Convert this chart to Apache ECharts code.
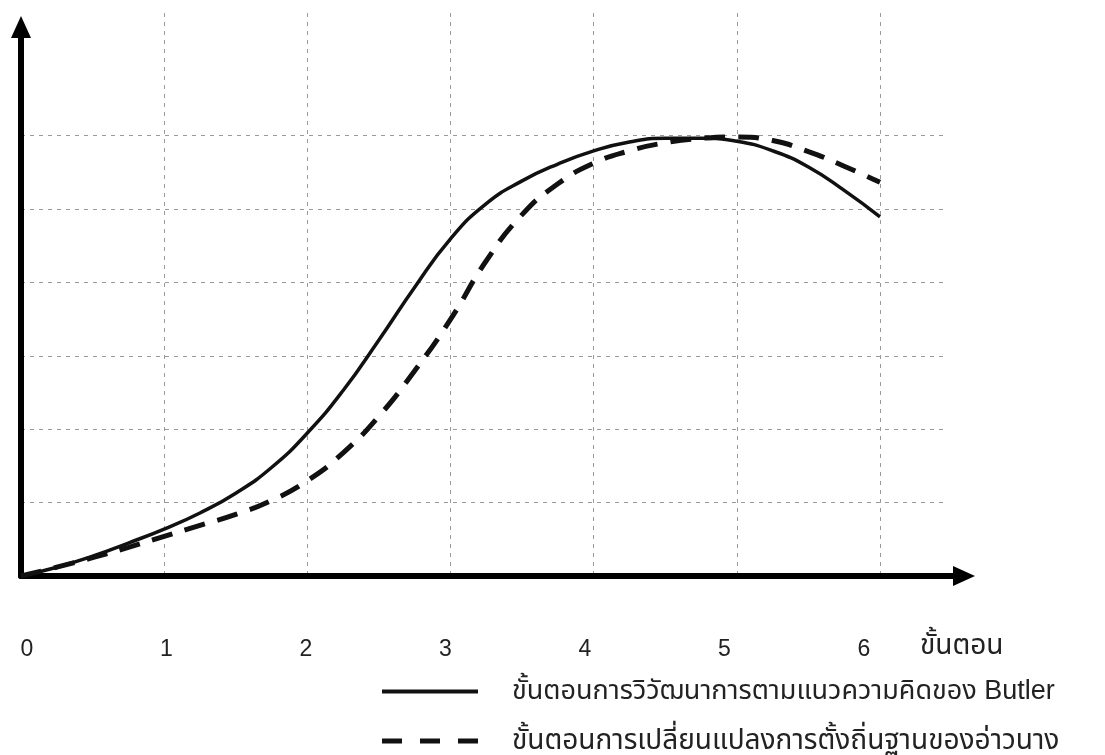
<!DOCTYPE html>
<html><head><meta charset="utf-8">
<script src="https://cdn.jsdelivr.net/npm/echarts@6/dist/echarts.min.js"></script>
<style>html,body{margin:0;padding:0;background:#fff}#c{width:1105px;height:755px}</style>
</head><body><div id="c"></div>
<script>
const xTicks = ['0', '1', '2', '3', '4', '5', '6'];
const xAxisName = 'ขั้นตอน';
const seriesNames = ['ขั้นตอนการวิวัฒนาการตามแนวความคิดของ Butler', 'ขั้นตอนการเปลี่ยนแปลงการตั้งถิ่นฐานของอ่าวนาง'];
const stepX = [0, 0.25, 0.5, 0.75, 1, 1.25, 1.5, 1.75, 2, 2.25, 2.5, 2.75, 3, 3.25, 3.5, 3.75, 4, 4.25, 4.5, 4.75, 5, 5.25, 5.5, 5.75, 6];
const butlerY = [0, 0.12, 0.27, 0.45, 0.64, 0.86, 1.13, 1.48, 1.95, 2.53, 3.22, 3.94, 4.6, 5.08, 5.39, 5.62, 5.8, 5.92, 5.97, 5.97, 5.93, 5.8, 5.58, 5.26, 4.9];
const aonangY = [0, 0.12, 0.25, 0.39, 0.54, 0.69, 0.84, 1.03, 1.3, 1.68, 2.18, 2.8, 3.5, 4.3, 4.93, 5.35, 5.63, 5.8, 5.91, 5.97, 5.99, 5.94, 5.79, 5.59, 5.37];

const zip = (xs, ys) => xs.map((x, i) => [x, ys[i]]);
const FONT = "'Liberation Sans', Arial, 'Noto Sans Thai', 'Noto Sans', sans-serif";
const gridLine = { color: '#9a9a9a', type: [4, 5], width: 1 };
const hidden = { axisLine: { show: false }, axisTick: { show: false }, axisLabel: { show: false } };

const chart = echarts.init(document.getElementById('c'), null, { renderer: 'canvas' });
chart.setOption({
  animation: false,
  backgroundColor: '#fff',
  textStyle: { fontFamily: FONT },
  grid: [
    { left: 21, right: 158, top: 13, bottom: 179 },   // data + vertical gridlines
    { left: 21, right: 141, top: 27, bottom: 179 },   // arrow axes
    { left: 27, right: 241, top: 13, bottom: 179 },   // tick labels
    { left: 21, right: 158, top: 99, bottom: 179 }    // horizontal gridlines
  ],
  xAxis: [
    Object.assign({ gridIndex: 0, type: 'value', min: 0, max: 6.468, interval: 1,
      splitLine: { show: true, showMinLine: false, showMaxLine: false, lineStyle: gridLine } }, hidden),
    { gridIndex: 1, type: 'value', min: 0, max: 1,
      axisLine: { show: true, onZero: false, symbol: ['none', 'triangle'], symbolSize: [20, 22],
        lineStyle: { color: '#000', width: 6 } },
      axisTick: { show: false }, axisLabel: { show: false }, splitLine: { show: false } },
    { gridIndex: 2, type: 'value', min: 0, max: 6, interval: 1,
      axisLine: { show: false }, axisTick: { show: false }, splitLine: { show: false },
      axisLabel: { show: true, margin: 62, fontSize: 23, color: '#222', fontFamily: FONT,
        formatter: v => xTicks[Math.round(v)] },
      name: xAxisName, nameLocation: 'end', nameGap: 56,
      nameTextStyle: { fontSize: 28, color: '#222', align: 'left', verticalAlign: 'top',
        padding: [56, 0, 0, 0], fontFamily: FONT } },
    Object.assign({ gridIndex: 3, type: 'value', min: 0, max: 6.468, splitLine: { show: false } }, hidden)
  ],
  yAxis: [
    Object.assign({ gridIndex: 0, type: 'value', min: 0, max: 7.68, splitLine: { show: false } }, hidden),
    { gridIndex: 1, type: 'value', min: 0, max: 1,
      axisLine: { show: true, onZero: false, symbol: ['none', 'triangle'], symbolSize: [20, 22],
        lineStyle: { color: '#000', width: 6 } },
      axisTick: { show: false }, axisLabel: { show: false }, splitLine: { show: false } },
    Object.assign({ gridIndex: 2, type: 'value', min: 0, max: 1, splitLine: { show: false } }, hidden),
    Object.assign({ gridIndex: 3, type: 'value', min: 0, max: 6.5, interval: 1,
      splitLine: { show: true, showMinLine: false, showMaxLine: false, lineStyle: gridLine } }, hidden)
  ],
  legend: [
    { left: 377, top: 673, itemWidth: 96, itemHeight: 4, orient: 'horizontal',
      textStyle: { fontSize: 27, color: '#222', fontFamily: FONT, padding: [0, 0, 0, 29] },
      data: [{ name: seriesNames[0], icon: 'rect', itemStyle: { color: '#111' } }] },
    { left: 377, top: 722, itemWidth: 96, itemHeight: 5, orient: 'horizontal',
      textStyle: { fontSize: 28, color: '#222', fontFamily: FONT, padding: [0, 0, 0, 29] },
      data: [{ name: seriesNames[1], icon: 'path://M0,0h20v5h-20z M38,0h20v5h-20z M76,0h20v5h-20z',
        itemStyle: { color: '#111' } }] }
  ],
  series: [
    { name: seriesNames[0], type: 'line', xAxisIndex: 0, yAxisIndex: 0, smooth: 0.5,
      symbol: 'none', data: zip(stepX, butlerY),
      lineStyle: { color: '#111', width: 3.5, type: 'solid' }, itemStyle: { color: '#111' } },
    { name: seriesNames[1], type: 'line', xAxisIndex: 0, yAxisIndex: 0, smooth: 0.5,
      symbol: 'none', data: zip(stepX, aonangY),
      lineStyle: { color: '#111', width: 5, type: [21, 13] }, itemStyle: { color: '#111' } }
  ]
});
</script></body></html>
